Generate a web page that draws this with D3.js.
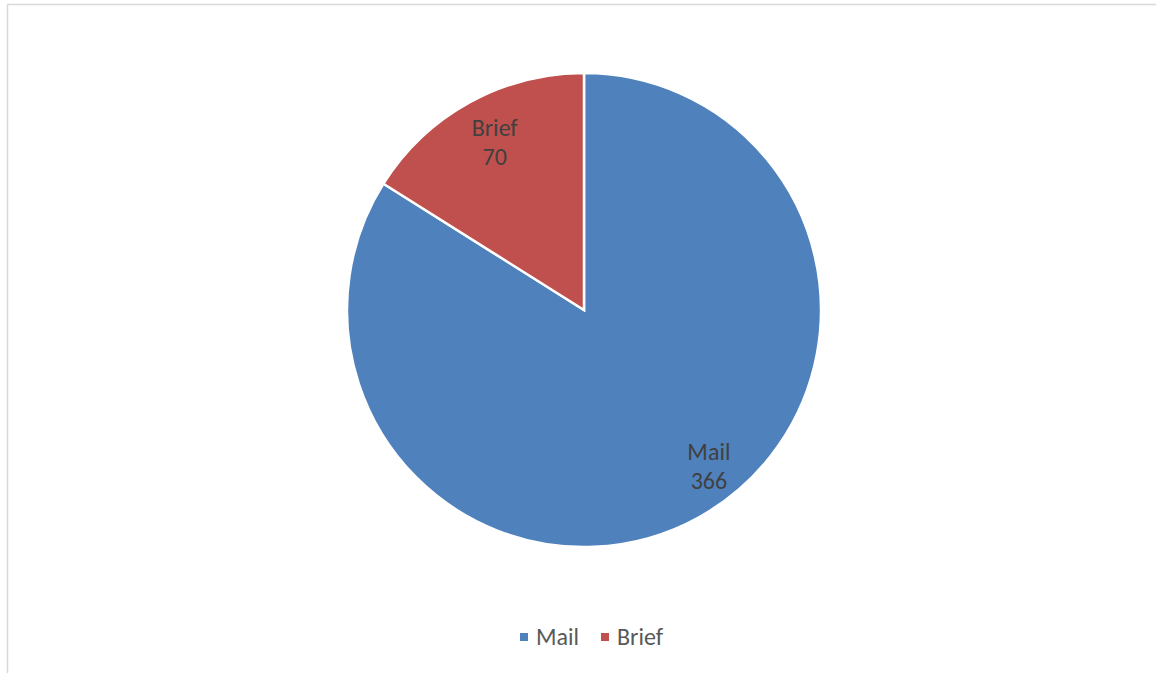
<!DOCTYPE html>
<html>
<head>
<meta charset="utf-8">
<script src="https://d3js.org/d3.v7.min.js"></script>
<style>
  html, body { margin: 0; padding: 0; background: #fff; }
  svg { display: block; }
  text { font-family: Carlito, "Open Sans", "Liberation Sans", sans-serif; }
</style>
</head>
<body>
<svg width="1156" height="673"></svg>
<script>
  // data
  const categories = ["Mail", "Brief"];
  const values = [366, 70];
  const colors = ["#4F81BD", "#C0504D"];

  const svg = d3.select("svg");
  const W = 1156, H = 673;

  // chart frame
  svg.append("rect")
    .attr("x", 7.5).attr("y", 4.5)
    .attr("width", W).attr("height", H)
    .attr("fill", "none").attr("stroke", "#d9d9d9").attr("stroke-width", 1.5);

  const cx = 584, cy = 310, R = 237;

  const pie = d3.pie().sort(null).value(d => d.value);
  const arcs = pie(categories.map((c, i) => ({ name: c, value: values[i], color: colors[i] })));

  const arc = d3.arc().innerRadius(0).outerRadius(R);

  const g = svg.append("g").attr("transform", `translate(${cx},${cy})`);

  g.selectAll("path")
    .data(arcs)
    .enter().append("path")
      .attr("d", arc)
      .attr("fill", d => d.data.color)
      .attr("stroke", "#fff")
      .attr("stroke-width", 2.5)
      .attr("stroke-linejoin", "miter");

  // label placement (excel "best fit" roughly)
  const labelR = [200, 190];
  const labelShift = [-0.17, 0.015];
  const lbl = g.selectAll("g.lbl")
    .data(arcs)
    .enter().append("g")
      .attr("class", "lbl")
      .attr("transform", (d, i) => {
        const a = (d.startAngle + d.endAngle) / 2 + labelShift[i];
        return `translate(${Math.sin(a) * labelR[i]},${-Math.cos(a) * labelR[i]})`;
      });

  lbl.append("text")
    .attr("text-anchor", "middle")
    .attr("y", -6)
    .attr("font-size", 24)
    .attr("fill", "#404040")
    .text(d => d.data.name);

  lbl.append("text")
    .attr("text-anchor", "middle")
    .attr("y", 23)
    .attr("font-size", 24)
    .attr("fill", "#404040")
    .text(d => d.data.value);

  // legend
  const legend = svg.append("g").attr("transform", "translate(520,645)");
  const offsets = [0, 81];
  const items = legend.selectAll("g")
    .data(categories)
    .enter().append("g")
      .attr("transform", (d, i) => `translate(${offsets[i]},0)`);

  items.append("rect")
    .attr("x", 0).attr("y", -12)
    .attr("width", 8).attr("height", 8)
    .attr("fill", (d, i) => colors[i]);

  items.append("text")
    .attr("x", 16).attr("y", 0)
    .attr("font-size", 24)
    .attr("fill", "#595959")
    .text(d => d);
</script>
</body>
</html>
